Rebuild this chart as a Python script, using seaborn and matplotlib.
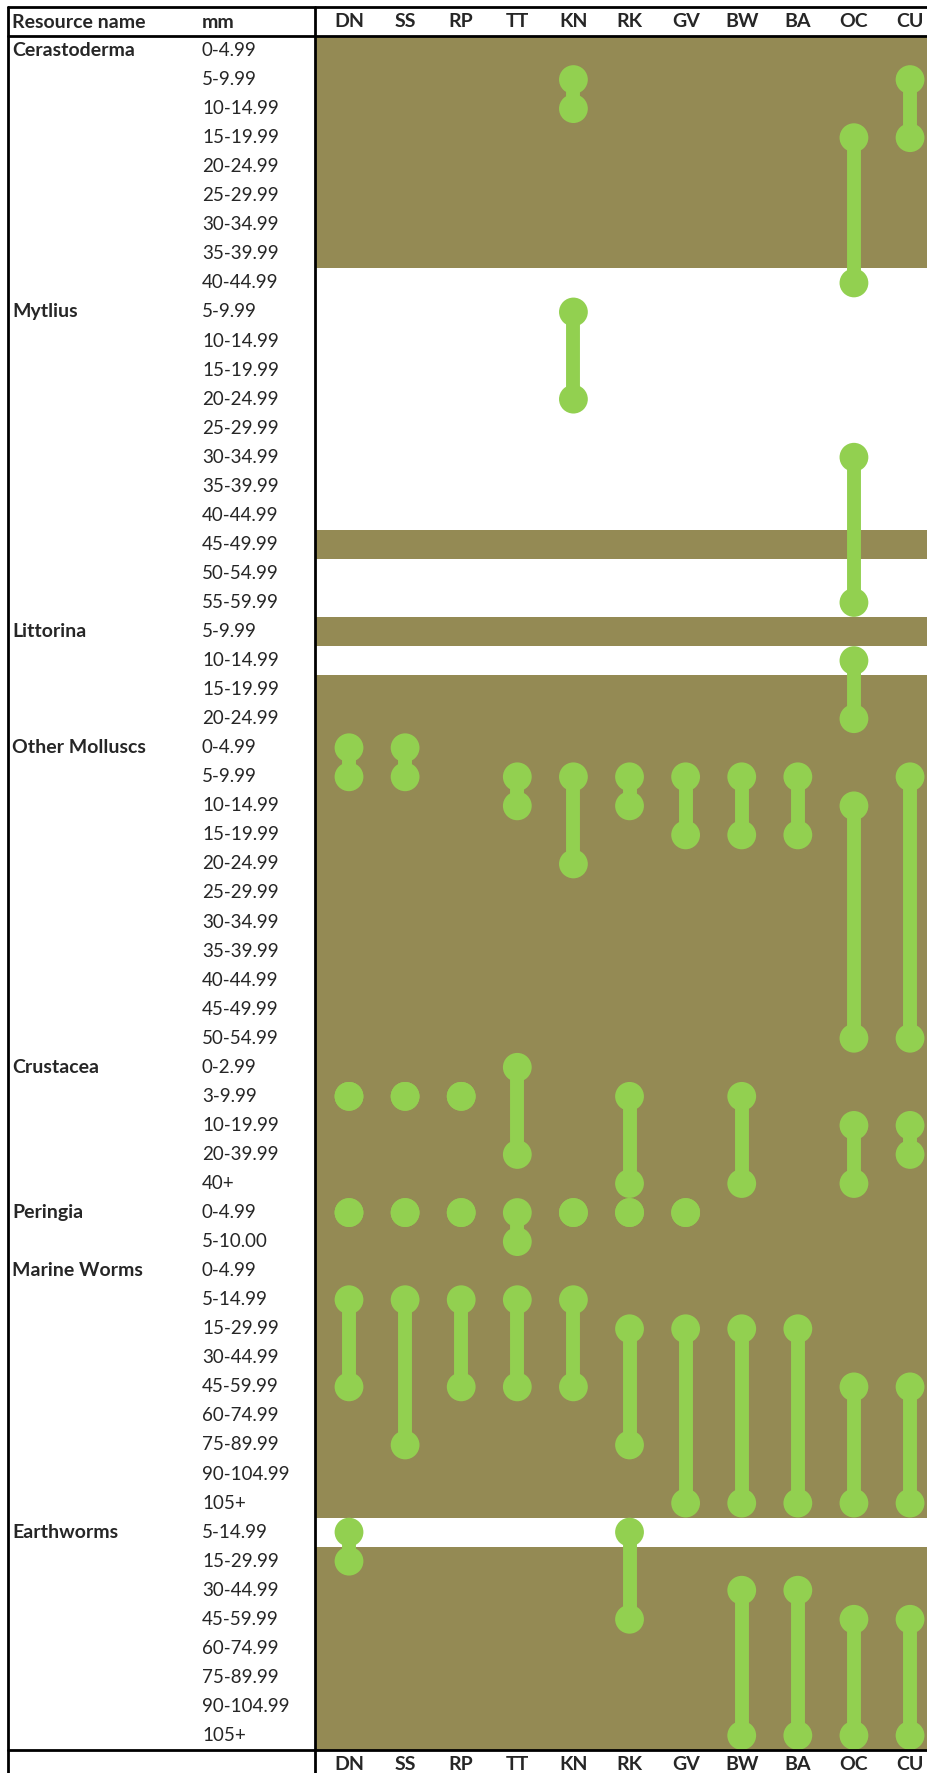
import pandas as pd
import seaborn as sns
import matplotlib.pyplot as plt
from matplotlib.transforms import blended_transform_factory

# Table rows: resource groups and their size classes (mm)
groups = ["Cerastoderma", "Mytlius", "Littorina", "Other Molluscs",
          "Crustacea", "Peringia", "Marine Worms", "Earthworms"]
sizes = {
    "Cerastoderma": ["0-4.99", "5-9.99", "10-14.99", "15-19.99", "20-24.99",
                     "25-29.99", "30-34.99", "35-39.99", "40-44.99"],
    "Mytlius": ["5-9.99", "10-14.99", "15-19.99", "20-24.99", "25-29.99", "30-34.99",
                "35-39.99", "40-44.99", "45-49.99", "50-54.99", "55-59.99"],
    "Littorina": ["5-9.99", "10-14.99", "15-19.99", "20-24.99"],
    "Other Molluscs": ["0-4.99", "5-9.99", "10-14.99", "15-19.99", "20-24.99", "25-29.99",
                       "30-34.99", "35-39.99", "40-44.99", "45-49.99", "50-54.99"],
    "Crustacea": ["0-2.99", "3-9.99", "10-19.99", "20-39.99", "40+"],
    "Peringia": ["0-4.99", "5-10.00"],
    "Marine Worms": ["0-4.99", "5-14.99", "15-29.99", "30-44.99", "45-59.99",
                     "60-74.99", "75-89.99", "90-104.99", "105+"],
    "Earthworms": ["5-14.99", "15-29.99", "30-44.99", "45-59.99",
                   "60-74.99", "75-89.99", "90-104.99", "105+"],
}

# Predator columns
predators = ["DN", "SS", "RP", "TT", "KN", "RK", "GV", "BW", "BA", "OC", "CU"]

# Rows (group, size) left unshaded
white_rows = [("Cerastoderma", "40-44.99"),
              ("Mytlius", "5-9.99"), ("Mytlius", "10-14.99"), ("Mytlius", "15-19.99"),
              ("Mytlius", "20-24.99"), ("Mytlius", "25-29.99"), ("Mytlius", "30-34.99"),
              ("Mytlius", "35-39.99"), ("Mytlius", "40-44.99"),
              ("Mytlius", "50-54.99"), ("Mytlius", "55-59.99"),
              ("Littorina", "10-14.99"),
              ("Earthworms", "5-14.99")]

# Size range taken by each predator: predator, group, smallest, largest
rng_pred = ["KN", "CU", "OC",
            "KN", "OC",
            "OC",
            "DN", "SS", "TT", "KN", "RK", "GV", "BW", "BA", "OC", "CU",
            "DN", "SS", "RP", "TT", "RK", "BW", "OC", "CU",
            "DN", "SS", "RP", "TT", "KN", "RK", "GV",
            "DN", "SS", "RP", "TT", "KN", "RK", "GV", "BW", "BA", "OC", "CU",
            "DN", "RK", "BW", "BA", "OC", "CU"]
rng_group = (["Cerastoderma"] * 3 + ["Mytlius"] * 2 + ["Littorina"]
             + ["Other Molluscs"] * 10 + ["Crustacea"] * 8 + ["Peringia"] * 7
             + ["Marine Worms"] * 11 + ["Earthworms"] * 6)
rng_from = ["5-9.99", "5-9.99", "15-19.99",
            "5-9.99", "30-34.99",
            "10-14.99",
            "0-4.99", "0-4.99", "5-9.99", "5-9.99", "5-9.99", "5-9.99", "5-9.99", "5-9.99",
            "10-14.99", "5-9.99",
            "3-9.99", "3-9.99", "3-9.99", "0-2.99", "3-9.99", "3-9.99", "10-19.99", "10-19.99",
            "0-4.99", "0-4.99", "0-4.99", "0-4.99", "0-4.99", "0-4.99", "0-4.99",
            "5-14.99", "5-14.99", "5-14.99", "5-14.99", "5-14.99", "15-29.99", "15-29.99",
            "15-29.99", "15-29.99", "45-59.99", "45-59.99",
            "5-14.99", "5-14.99", "30-44.99", "30-44.99", "45-59.99", "45-59.99"]
rng_to = ["10-14.99", "15-19.99", "40-44.99",
          "20-24.99", "55-59.99",
          "20-24.99",
          "5-9.99", "5-9.99", "10-14.99", "20-24.99", "10-14.99", "15-19.99", "15-19.99",
          "15-19.99", "50-54.99", "50-54.99",
          "3-9.99", "3-9.99", "3-9.99", "20-39.99", "40+", "40+", "40+", "20-39.99",
          "0-4.99", "0-4.99", "0-4.99", "5-10.00", "0-4.99", "0-4.99", "0-4.99",
          "45-59.99", "75-89.99", "45-59.99", "45-59.99", "45-59.99", "75-89.99", "105+",
          "105+", "105+", "105+", "105+",
          "15-29.99", "45-59.99", "105+", "105+", "105+", "105+"]

OLIVE = "#948A54"
GREEN = "#92D050"
W, H = 928, 1773

# row index of each (group, size)
row_keys = [(g, s) for g in groups for s in sizes[g]]
row_idx = {k: i for i, k in enumerate(row_keys)}
n_rows = len(row_keys)

recs = []
for i, (p, g, a, b) in enumerate(zip(rng_pred, rng_group, rng_from, rng_to)):
    for s in (a, b):
        recs.append({"seg": i, "x": predators.index(p), "y": row_idx[(g, s)]})
df = pd.DataFrame(recs)

sns.set_style("white")
plt.rcParams["font.family"] = ["Lato", "DejaVu Sans"]

fig = plt.figure(figsize=(W / 100, H / 100), dpi=100)
top, bottom, left = 36, 1750, 315
ax = fig.add_axes([left / W, 1 - bottom / H, (W - left) / W, (bottom - top) / H])

# shaded background rows
shaded = [row_idx[k] for k in row_keys if k not in white_rows]
ax.barh(shaded, width=20, left=-5, height=1.0, color=OLIVE, linewidth=0, zorder=0)

sns.lineplot(data=df, x="x", y="y", units="seg", estimator=None, sort=False,
             color=GREEN, lw=10, legend=False, ax=ax, zorder=2)
sns.scatterplot(data=df, x="x", y="y", s=430, marker="o", color=GREEN,
                edgecolor="none", legend=False, ax=ax, zorder=3)

ax.set_xlim(-0.606, 10.32)
ax.set_ylim(n_rows - 0.5, -0.5)
ax.set_xticks(range(len(predators)), predators, fontweight="bold", fontsize=14)
ax.tick_params(axis="x", top=True, labeltop=True, bottom=True, labelbottom=True,
               length=0, pad=4)
ax.set_yticks([])
ax.set_xlabel("")
ax.set_ylabel("")
for sp in ax.spines.values():
    sp.set_visible(False)

# left table text
tr = blended_transform_factory(fig.transFigure, ax.transData)
for g in groups:
    ax.text(12 / W, row_idx[(g, sizes[g][0])], g, transform=tr, fontsize=14,
            fontweight="bold", va="center", ha="left")
    for s in sizes[g]:
        ax.text(202 / W, row_idx[(g, s)], s, transform=tr, fontsize=13.5,
                va="center", ha="left")
fig.text(12 / W, 1 - 23 / H, "Resource name", fontsize=14, fontweight="bold", va="center")
fig.text(202 / W, 1 - 23 / H, "mm", fontsize=14, fontweight="bold", va="center")

# table rules
def rule(x0, y0, x1, y1):
    fig.add_artist(plt.Line2D([x0 / W, x1 / W], [1 - y0 / H, 1 - y1 / H],
                              transform=fig.transFigure, color="black", lw=2))

rule(8, 7, W, 7)
rule(8, 36, W, 36)
rule(8, 1750, W, 1750)
rule(8, 7, 8, H)
rule(315, 7, 315, H)

fig.savefig("out.png", dpi=100)
